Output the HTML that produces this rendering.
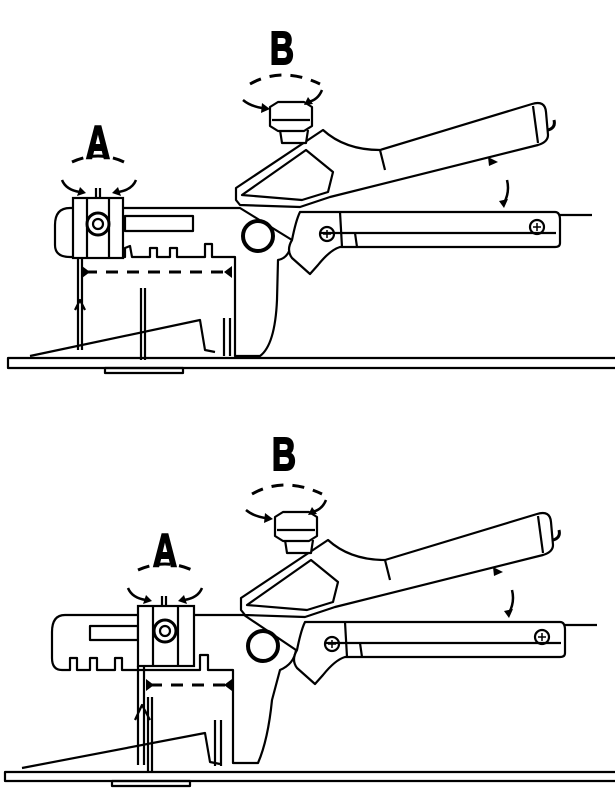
<!DOCTYPE html>
<html><head><meta charset="utf-8"><style>
html,body{margin:0;padding:0;background:#fff;}
svg{display:block;}
text{font-family:"Liberation Sans",sans-serif;font-weight:bold;}
</style></head><body>
<svg width="615" height="800" viewBox="0 0 615 800" xmlns="http://www.w3.org/2000/svg">
<defs>
<g id="tool" fill="none" stroke="#000" stroke-width="2.2" stroke-linejoin="round">
  <path d="M236,200 L236,188 L323,130 Q345,150 380,150 L532,104 Q545,100 546,112 L548,135 Q548,142 538,145 L330,197 L300,207 L240,205 Z" fill="#fff"/>
  <path d="M242,195 L306,150 L333,172 L328,192 L302,200 Z" fill="#fff"/>
  <path d="M380,150 L385,170" />
  <path d="M533,106 L538,143" />
  <path d="M548,130 q8,-2 6,-10" stroke-width="3"/>
  <path d="M280,130 L282,143 L306,143 L308,130" fill="#fff"/>
  <path d="M270,107 L278,102 L304,102 L312,107 L312,126 L304,131 L278,131 L270,126 Z" fill="#fff"/>
  <path d="M272,120 L310,120" />
  <path d="M300,212 L555,212 Q560,212 560,220 L560,243 Q560,247 555,247 L340,247 Q330,250 318,265 L310,274 L292,258 Q286,250 292,240 Q296,220 300,212 Z" fill="#fff"/>
  <path d="M320,233 L556,233 M355,233 L357,247 M340,212 L342,247"/>
  <path d="M560,215 L592,215"/>
  <circle cx="327" cy="234" r="7"/><path d="M323,234 h8 M327,230 v8" stroke-width="1.5"/>
  <circle cx="537" cy="227" r="7"/><path d="M533,227 h8 M537,223 v8" stroke-width="1.5"/>
  <circle cx="258" cy="236" r="15" stroke-width="4" fill="#fff"/>
</g>
</defs>

<!-- ===== TOP ===== -->
<g fill="none" stroke="#000" stroke-width="2.2" stroke-linejoin="round">
  <rect x="8" y="358" width="610" height="10"/>
  <rect x="105" y="368" width="78" height="5"/>
  <path d="M240,208 L70,208 Q55,208 55,225 L55,245 Q55,257 70,257 L125,257 L125,248 L130,246 L132,257 L150,257 L150,248 L157,248 L157,257 L170,257 L170,248 L177,248 L177,257 L205,257 L205,244 L212,244 L212,257 L235,257 L235,356 L260,356 Q275,345 277,300 L278,260 Q290,258 292,240 Z" fill="#fff"/>
  <rect x="125" y="216" width="68" height="15"/>
  <path d="M30,356 L200,320 L205,350 L215,352"/>
  <path d="M224,318 L224,356 M230,318 L230,356"/>
  <path d="M78,257 L78,350 M82,257 L82,350 M75,310 L80,300 L85,310"/>
  <path d="M141,288 L141,360 M145,288 L145,360"/>
</g>
<use href="#tool"/>
<g fill="none" stroke="#000" stroke-width="2.2">
  <rect x="73" y="198" width="50" height="60" fill="#fff"/>
  <path d="M87,198 L87,258 M109,198 L109,258 M96,188 L96,198 M100,188 L100,198"/>
  <circle cx="98" cy="224" r="11" stroke-width="3" fill="#fff"/><circle cx="98" cy="224" r="5"/>
  <path d="M85,272 L228,272" stroke-dasharray="12,9" stroke-width="3"/>
  <path d="M72,162 Q98,150 124,162" stroke-dasharray="12,9" stroke-width="3"/>
  <path d="M62,180 Q66,190 80,192 M136,180 Q132,190 118,192" stroke-width="2.5"/>
  <path d="M250,84 Q282,66 320,84" stroke-dasharray="12,9" stroke-width="3"/>
  <path d="M243,100 Q250,106 262,108 M322,90 Q318,100 308,102" stroke-width="2.5"/>
  <path d="M507,180 Q510,192 504,203" stroke-width="2.5"/>
</g>
<g fill="#000">
  <path d="M82,266 L90,272 L82,278 Z M232,266 L224,272 L232,278 Z"/>
  <path d="M80,187 L86,193 L77,196 Z M118,187 L112,193 L121,196 Z"/>
  <path d="M262,103 L270,109 L261,113 Z M308,97 L304,105 L313,104 Z"/>
  <path d="M488,157 L498,162 L489,166 Z M499,201 L504,208 L508,199 Z"/>
</g>
<text font-size="46" text-anchor="middle" transform="translate(98,158) scale(0.72,1)" stroke="#000" stroke-width="2">A</text>
<text font-size="46" text-anchor="middle" transform="translate(282,64) scale(0.72,1)" stroke="#000" stroke-width="2">B</text>

<!-- ===== BOTTOM ===== -->
<g fill="none" stroke="#000" stroke-width="2.2" stroke-linejoin="round">
  <rect x="5" y="772" width="613" height="9"/>
  <rect x="112" y="781" width="78" height="5"/>
  <path d="M244,615 L65,615 Q52,615 52,632 L52,658 Q52,670 62,670 L70,670 L70,658 L77,658 L77,670 L90,670 L90,658 L97,658 L97,670 L115,670 L115,658 L122,658 L122,670 L200,670 L200,655 L208,655 L208,670 L233,670 L233,763 L258,763 Q268,740 272,700 L280,670 Q294,664 296,650 Z" fill="#fff"/>
  <rect x="90" y="626" width="48" height="14"/>
  <path d="M22,768 L205,733 L210,762 L220,764"/>
  <path d="M215,720 L215,766 M221,720 L221,766"/>
  <path d="M138,666 L138,765 M144,666 L144,765 M135,720 L142,705 L150,720"/>
  <path d="M148,697 L148,772 M152,697 L152,772"/>
</g>
<use href="#tool" transform="translate(5,410)"/>
<g fill="none" stroke="#000" stroke-width="2.2">
  <rect x="138" y="606" width="56" height="60" fill="#fff"/>
  <path d="M153,606 L153,666 M178,606 L178,666 M162,596 L162,606 M166,596 L166,606"/>
  <circle cx="165" cy="631" r="11" stroke-width="3" fill="#fff"/><circle cx="165" cy="631" r="5"/>
  <path d="M150,685 L228,685" stroke-dasharray="12,9" stroke-width="3"/>
  <path d="M138,570 Q165,558 192,570" stroke-dasharray="12,9" stroke-width="3"/>
  <path d="M128,588 Q132,598 146,600 M202,588 Q198,598 184,600" stroke-width="2.5"/>
  <path d="M252,494 Q284,476 322,494" stroke-dasharray="12,9" stroke-width="3"/>
  <path d="M246,510 Q253,516 265,518 M326,500 Q322,510 312,512" stroke-width="2.5"/>
  <path d="M512,590 Q515,602 509,613" stroke-width="2.5"/>
</g>
<g fill="#000">
  <path d="M146,679 L154,685 L146,691 Z M232,679 L224,685 L232,691 Z"/>
  <path d="M146,595 L152,601 L143,604 Z M184,595 L178,601 L187,604 Z"/>
  <path d="M265,513 L273,519 L264,523 Z M312,507 L308,515 L317,514 Z"/>
  <path d="M493,567 L503,572 L494,576 Z M504,611 L509,618 L513,609 Z"/>
</g>
<text font-size="46" text-anchor="middle" transform="translate(165,566) scale(0.72,1)" stroke="#000" stroke-width="2">A</text>
<text font-size="46" text-anchor="middle" transform="translate(284,470) scale(0.72,1)" stroke="#000" stroke-width="2">B</text>
</svg>
</body></html>
